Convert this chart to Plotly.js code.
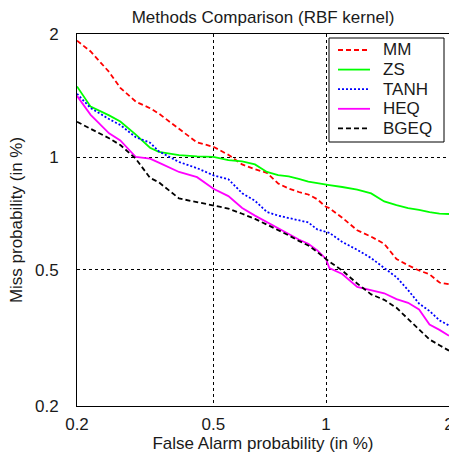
<!DOCTYPE html>
<html>
<head>
<meta charset="utf-8">
<script src="https://cdn.plot.ly/plotly-3.0.1.min.js"></script>
<style>html,body{margin:0;padding:0;background:#fff;}#chart{width:449px;height:453px;}</style>
</head>
<body>
<div id="chart"></div>
<script>
// False alarm probability (%) sample points
const falseAlarm = [0.20,0.22,0.25,0.27,0.30,0.33,0.35,0.40,0.45,0.50,0.55,0.60,0.65,0.70,0.75,0.80,0.85,0.90,0.95,0.98,1.00,1.02,1.10,1.20,1.30,1.40,1.50,1.60,1.70,1.80,1.90,2.00];
// Miss probability (%) per method
const missMM   = [1.93,1.82,1.626,1.489,1.377,1.327,1.287,1.176,1.089,1.062,1.013,0.957,0.930,0.910,0.854,0.828,0.811,0.799,0.776,0.754,0.741,0.735,0.693,0.641,0.616,0.589,0.535,0.514,0.497,0.485,0.460,0.455];
const missZS   = [1.501,1.339,1.274,1.230,1.140,1.056,1.031,1.011,1.004,1.001,0.982,0.975,0.957,0.915,0.898,0.891,0.878,0.864,0.856,0.850,0.848,0.846,0.836,0.823,0.804,0.766,0.749,0.735,0.727,0.717,0.711,0.709];
const missTANH = [1.44,1.328,1.247,1.205,1.123,1.088,1.034,0.971,0.936,0.897,0.876,0.805,0.769,0.718,0.702,0.691,0.682,0.673,0.644,0.638,0.635,0.631,0.596,0.567,0.538,0.504,0.476,0.438,0.401,0.382,0.359,0.347];
const missHEQ  = [1.423,1.278,1.149,1.102,1.0,0.99,0.967,0.915,0.887,0.827,0.791,0.736,0.702,0.673,0.648,0.626,0.605,0.589,0.565,0.545,0.535,0.505,0.486,0.447,0.438,0.429,0.413,0.403,0.386,0.349,0.337,0.324];
const missBGEQ = [1.228,1.181,1.116,1.073,0.99,0.883,0.86,0.78,0.762,0.744,0.733,0.71,0.688,0.664,0.642,0.621,0.60,0.583,0.559,0.543,0.534,0.526,0.497,0.457,0.426,0.411,0.39,0.362,0.337,0.316,0.304,0.293];
const seriesNames = ['MM','ZS','TANH','HEQ','BGEQ'];
const tickValues = [0.2,0.5,1,2];
const tickLabels = ['0.2','0.5','1','2'];

// inverse normal CDF (Acklam) -> DET (normal deviate) scale
function probit(p){
  const a=[-3.969683028665376e+01,2.209460984245205e+02,-2.759285104469687e+02,1.383577518672690e+02,-3.066479806614716e+01,2.506628277459239e+00];
  const b=[-5.447609879822406e+01,1.615858368580409e+02,-1.556989798598866e+02,6.680131188771972e+01,-1.328068155288572e+01];
  const c=[-7.784894002430293e-03,-3.223964580411365e-01,-2.400758277161838e+00,-2.549732539343734e+00,4.374664141464968e+00,2.938163982698783e+00];
  const d=[7.784695709041462e-03,3.224671290700398e-01,2.445134137142996e+00,3.754408661907416e+00];
  const pl=0.02425, ph=1-pl; let q,r;
  if(p<pl){q=Math.sqrt(-2*Math.log(p));return (((((c[0]*q+c[1])*q+c[2])*q+c[3])*q+c[4])*q+c[5])/((((d[0]*q+d[1])*q+d[2])*q+d[3])*q+1);}
  if(p<=ph){q=p-0.5;r=q*q;return (((((a[0]*r+a[1])*r+a[2])*r+a[3])*r+a[4])*r+a[5])*q/(((((b[0]*r+b[1])*r+b[2])*r+b[3])*r+b[4])*r+1);}
  q=Math.sqrt(-2*Math.log(1-p));return -(((((c[0]*q+c[1])*q+c[2])*q+c[3])*q+c[4])*q+c[5])/((((d[0]*q+d[1])*q+d[2])*q+d[3])*q+1);
}
const toZ = v => probit(v/100);

const FONT = 'Liberation Sans, Arial, sans-serif';
const TXT = '#1a1a1a';
const allMiss = [missMM, missZS, missTANH, missHEQ, missBGEQ];
const colors = ['#ff0000','#00ff00','#0000ff','#ff00ff','#000000'];
const dashes = ['5px,3px','solid','2px,2px','solid','5px,3px'];

const xz = falseAlarm.map(toZ);
const traces = allMiss.map((arr,i)=>({
  x: xz, y: arr.map(toZ), type:'scatter', mode:'lines', name: seriesNames[i],
  line:{color:colors[i], width:1.8, dash:dashes[i]}, showlegend:false, hoverinfo:'skip'
}));

// manual legend (layout decoration)
const L=77, T=34, W=372, H=372;
const px = v => (v-L)/W, py = v => (T+H-v)/H;
const shapes = [{type:'rect', xref:'paper', yref:'paper', x0:px(329), x1:px(444), y0:py(38), y1:py(142), line:{color:'#000', width:1}, fillcolor:'#fff', layer:'above'}];
const annotations = [];
seriesNames.forEach((n,i)=>{
  const yy = 50 + 19.6*i;
  shapes.push({type:'line', xref:'paper', yref:'paper', x0:px(338), x1:px(370), y0:py(yy), y1:py(yy), line:{color:colors[i], width:1.8, dash:dashes[i]}, layer:'above'});
  annotations.push({xref:'paper', yref:'paper', x:px(381), y:py(yy), xanchor:'left', yanchor:'middle', text:n, showarrow:false, font:{family:FONT, size:17, color:TXT}});
});

const axisCommon = {
  showgrid:true, gridcolor:'#000', gridwidth:1, griddash:'3px,3px',
  showline:true, mirror:true, linecolor:'#000', linewidth:1,
  ticks:'', zeroline:false, tickmode:'array', ticklabeloverflow:'allow',
  tickvals: tickValues.map(toZ), ticktext: tickLabels,
  tickfont:{family:FONT, size:17, color:TXT}
};

const layout = {
  width:449, height:453,
  margin:{l:77, r:0, t:34, b:47},
  paper_bgcolor:'#fff', plot_bgcolor:'#fff',
  title:{text:'Methods Comparison (RBF kernel)', font:{family:FONT, size:17, color:TXT}, x:(263/449), xanchor:'center', y:1-17/453, yanchor:'middle', yref:'container'},
  xaxis: Object.assign({}, axisCommon, {range:[toZ(0.2), toZ(2)], ticklabelstandoff:3,
    title:{text:'False Alarm probability (in %)', font:{family:FONT, size:17, color:TXT}, standoff:4}}),
  yaxis: Object.assign({}, axisCommon, {range:[toZ(0.2), toZ(2)], ticklabelstandoff:14,
    title:{text:'Miss probability (in %)', font:{family:FONT, size:17, color:TXT}, standoff:8}}),
  shapes: shapes, annotations: annotations, showlegend:false
};

Plotly.newPlot('chart', traces, layout, {displayModeBar:false, staticPlot:true});
</script>
</body>
</html>
